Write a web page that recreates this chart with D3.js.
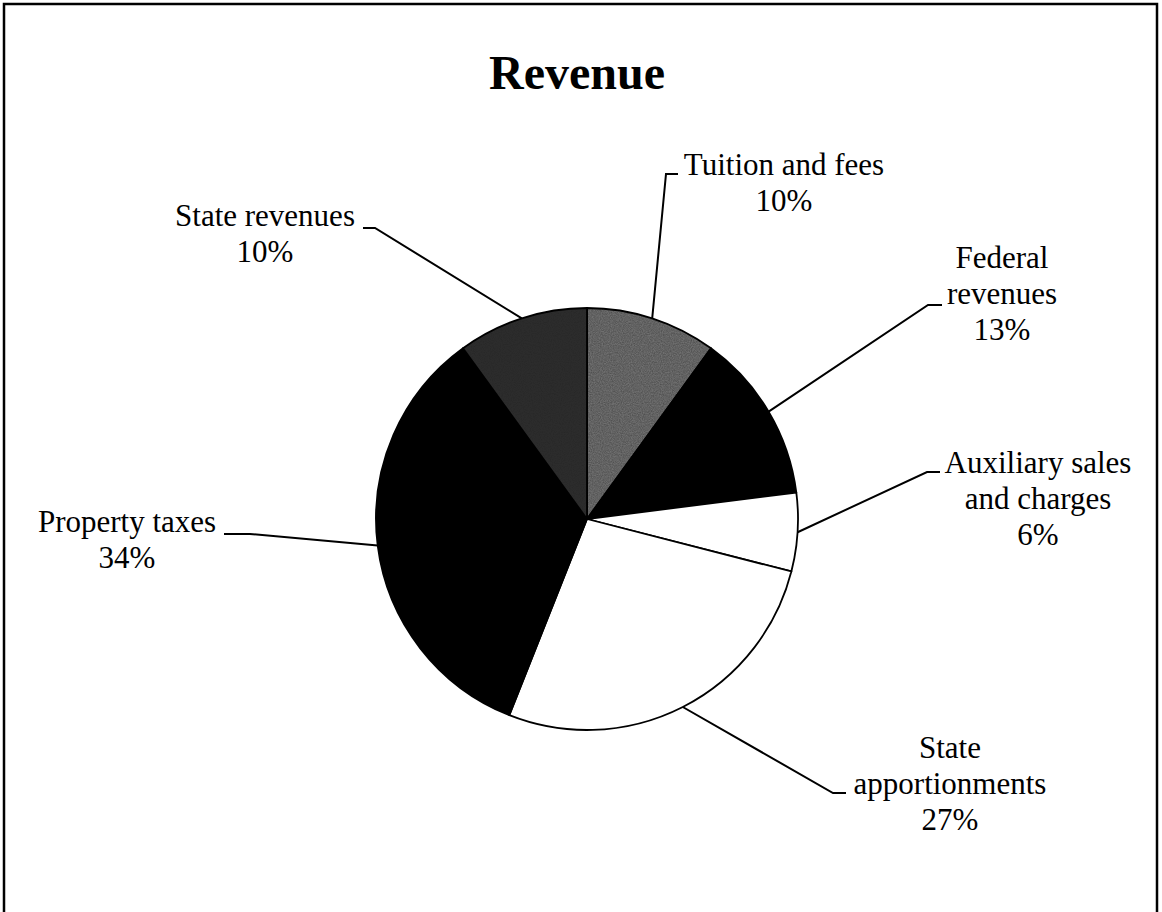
<!DOCTYPE html>
<html>
<head>
<meta charset="utf-8">
<script src="https://cdn.jsdelivr.net/npm/d3@7"></script>
<style>
  body { margin: 0; background: #fff; }
  svg { display: block; }
  text { font-family: "Liberation Serif", "Times New Roman", serif; fill: #000; }
</style>
</head>
<body>
<svg id="revenueSvg" width="1162" height="912"></svg>
<script>
// chart data
var categories = ["Tuition and fees", "Federal revenues", "Auxiliary sales and charges",
                  "State apportionments", "Property taxes", "State revenues"];
var shares = [10, 13, 6, 27, 34, 10];
var labelLines = [
  ["Tuition and fees"],
  ["Federal", "revenues"],
  ["Auxiliary sales", "and charges"],
  ["State", "apportionments"],
  ["Property taxes"],
  ["State revenues"]
];
var chartTitle = "Revenue";

// slice look + label placement (layout only)
var sliceFills = ["url(#grainLight)", "#000", "#fff", "#fff", "#000", "url(#grainDark)"];
// [label center x, first baseline y, elbow x, elbow y, tick end x]
var labelSpots = [
  [784, 175, 666, 174, 678],
  [1002, 268, 928, 305, 942],
  [1038, 473, 927, 472, 940],
  [950, 758, 833, 793, 846],
  [127, 532, 250, 534, 224],
  [265, 226, 375, 228, 363]
];

var svg, cx = 587, cy = 519, radius = 211, lineGap = 36;

document.addEventListener("DOMContentLoaded", function () {
  svg = d3.select("#revenueSvg");
  makeTextures();

  // outer frame
  svg.append("rect")
    .attr("x", 4).attr("y", 4)
    .attr("width", 1153).attr("height", 1000)
    .attr("fill", "none")
    .attr("stroke", "#000")
    .attr("stroke-width", 2.5);

  svg.append("text")
    .attr("x", 577).attr("y", 89)
    .attr("text-anchor", "middle")
    .style("font-size", "48px")
    .style("font-weight", "bold")
    .text(chartTitle);

  drawPie();
});

function makeTextures() {
  var defs = svg.append("defs");
  [["grainLight", "#707070", 0.45], ["grainDark", "#2c2c2c", 0.25]].forEach(function (g) {
    var pat = defs.append("pattern")
      .attr("id", g[0])
      .attr("patternUnits", "userSpaceOnUse")
      .attr("width", 500).attr("height", 500);
    pat.append("rect").attr("width", 500).attr("height", 500).attr("fill", g[1]);
    var f = defs.append("filter").attr("id", g[0] + "Noise")
      .attr("x", 0).attr("y", 0).attr("width", 1).attr("height", 1);
    f.append("feTurbulence").attr("type", "fractalNoise")
      .attr("baseFrequency", 0.9).attr("numOctaves", 2).attr("seed", 3);
    f.append("feColorMatrix").attr("type", "matrix")
      .attr("values", "0 0 0 0 0  0 0 0 0 0  0 0 0 0 0  0 0 0 " + g[2] + " -0.1");
    f.append("feComposite").attr("in2", "SourceGraphic").attr("operator", "in");
    pat.append("rect").attr("width", 500).attr("height", 500)
      .attr("fill", g[1]).attr("filter", "url(#" + g[0] + "Noise)");
  });
}

function drawPie() {
  var pie = d3.pie().sort(null).value(function (d) { return d; });
  var arcs = pie(shares);
  var arc = d3.arc().innerRadius(0).outerRadius(radius);

  var pieGroup = svg.append("g")
    .attr("transform", "translate(" + cx + "," + cy + ")");

  pieGroup.selectAll("path")
    .data(arcs)
    .enter()
    .append("path")
    .attr("d", arc)
    .attr("fill", function (d, i) { return sliceFills[i]; })
    .attr("stroke", "#000")
    .attr("stroke-width", 1.8)
    .attr("stroke-linejoin", "round");

  // leader lines start on the rim at the slice's middle angle
  var leaders = svg.append("g").attr("class", "leaders");
  arcs.forEach(function (d, i) {
    var mid = (d.startAngle + d.endAngle) / 2;
    var px = cx + radius * Math.sin(mid);
    var py = cy - radius * Math.cos(mid);
    var s = labelSpots[i];
    leaders.append("path")
      .attr("d", d3.line()([[px, py], [s[2], s[3]], [s[4], s[3]]]))
      .attr("fill", "none")
      .attr("stroke", "#000")
      .attr("stroke-width", 2);

    var lines = labelLines[i].concat([shares[i] + "%"]);
    var t = svg.append("text")
      .attr("text-anchor", "middle")
      .style("font-size", "31px");
    lines.forEach(function (ln, j) {
      t.append("tspan")
        .attr("x", s[0])
        .attr("y", s[1] + j * lineGap)
        .text(ln);
    });
  });
}
</script>
</body>
</html>
